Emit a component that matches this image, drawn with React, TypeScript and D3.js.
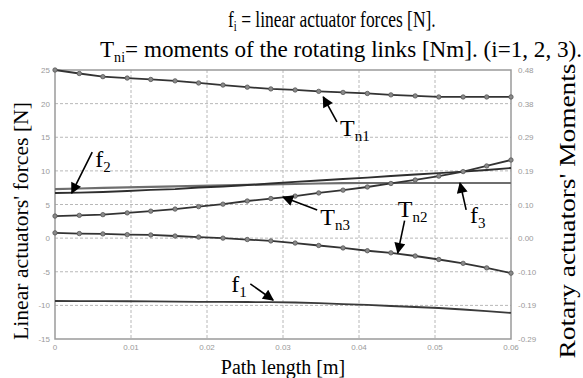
import * as d3 from "d3";

const W = 583;
const H = 378;
const MARGIN = { top: 70, right: 72, bottom: 39, left: 55 };

// path length [m] at each computed point
const pathLength = [
  0, 0.0032, 0.0063, 0.0095, 0.0126, 0.0158, 0.0189, 0.0221, 0.0253, 0.0284,
  0.0316, 0.0347, 0.0379, 0.0411, 0.0442, 0.0474, 0.0505, 0.0537, 0.0568, 0.06,
];

// linear actuator forces [N] (left axis)
const f1 = [
  -9.35, -9.36, -9.38, -9.39, -9.42, -9.44, -9.47, -9.48, -9.5, -9.53,
  -9.57, -9.68, -9.8, -9.94, -10.09, -10.24, -10.39, -10.61, -10.84, -11.13,
];
const f2 = [
  6.71, 6.78, 6.86, 7.01, 7.16, 7.3, 7.53, 7.68, 7.9, 8.12,
  8.35, 8.57, 8.79, 9.01, 9.24, 9.46, 9.68, 9.9, 10.13, 10.43,
];
const f3 = [
  7.3, 7.38, 7.46, 7.54, 7.62, 7.7, 7.77, 7.84, 7.91, 7.98,
  8.05, 8.12, 8.18, 8.2, 8.2, 8.2, 8.2, 8.2, 8.2, 8.2,
];

// moments of the rotating links [Nm] (right axis)
const tn1 = [
  0.48, 0.47, 0.461, 0.457, 0.453, 0.449, 0.443, 0.437, 0.431, 0.426,
  0.423, 0.419, 0.416, 0.413, 0.409, 0.406, 0.403, 0.403, 0.403, 0.403,
];
const tn2 = [
  0.015, 0.013, 0.012, 0.01, 0.009, 0.006, 0.003, 0.0, -0.004, -0.008,
  -0.014, -0.021, -0.028, -0.036, -0.042, -0.051, -0.061, -0.072, -0.085, -0.1,
];
const tn3 = [
  0.063, 0.065, 0.067, 0.072, 0.077, 0.083, 0.09, 0.097, 0.106, 0.113,
  0.12, 0.129, 0.137, 0.146, 0.156, 0.166, 0.177, 0.19, 0.206, 0.223,
];

const xTicks = [0, 0.01, 0.02, 0.03, 0.04, 0.05, 0.06];
const xTickLabels = ["0", "0.01", "0.02", "0.03", "0.04", "0.05", "0.06"];
const leftTicks = [-15, -10, -5, 0, 5, 10, 15, 20, 25];
const rightTicks = [-0.288, -0.192, -0.096, 0, 0.096, 0.192, 0.288, 0.384, 0.48];
const rightTickLabels = ["-0.29", "-0.19", "-0.10", "0.00", "0.10", "0.19", "0.29", "0.38", "0.48"];

// annotations, in data units of the left axis: arrow tail, arrow tip, label anchor
const notes = [
  { main: "f", sub: "2", tail: [0.0049, 12.8], tip: [0.0022, 6.7], at: [0.0053, 10.6] },
  { main: "T", sub: "n1", tail: [0.0371, 17.3], tip: [0.0353, 21.0], at: [0.0375, 15.2] },
  { main: "T", sub: "n3", tail: [0.0345, 4.2], tip: [0.03, 6.1], at: [0.0349, 2.0] },
  { main: "T", sub: "n2", tail: [0.046, 2.6], tip: [0.0451, -2.2], at: [0.0451, 3.2] },
  { main: "f", sub: "3", tail: [0.0541, 4.2], tip: [0.0533, 8.2], at: [0.0546, 2.3] },
  { main: "f", sub: "1", tail: [0.0257, -6.8], tip: [0.0287, -9.2], at: [0.0232, -8.0] },
];

const SERIF = "'Liberation Serif', 'Times New Roman', serif";
const SANS = "'Liberation Sans', Arial, sans-serif";

export default function App() {
  const x = d3.scaleLinear().domain([0, 0.06]).range([MARGIN.left, W - MARGIN.right]);
  const yL = d3.scaleLinear().domain([-15, 25]).range([H - MARGIN.bottom, MARGIN.top]);
  const yR = d3.scaleLinear().domain([-0.288, 0.48]).range([H - MARGIN.bottom, MARGIN.top]);

  const lineL = d3
    .line<number>()
    .x((_, i) => x(pathLength[i]))
    .y((d) => yL(d));
  const lineR = d3
    .line<number>()
    .x((_, i) => x(pathLength[i]))
    .y((d) => yR(d));

  const left = MARGIN.left;
  const right = W - MARGIN.right;
  const top = MARGIN.top;
  const bottom = H - MARGIN.bottom;

  return (
    <svg
      width={W}
      height={H}
      style={{ position: "absolute", left: 0, top: 0, background: "#fff" }}
    >
      <defs>
        <marker
          id="arr"
          viewBox="0 0 10 10"
          refX="9"
          refY="5"
          markerWidth="13"
          markerHeight="11"
          markerUnits="userSpaceOnUse"
          orient="auto"
        >
          <path d="M0,0 L10,5 L0,10 z" fill="#000" />
        </marker>
      </defs>

      {/* titles */}
      <g transform="translate(228,27) scale(0.76,1)">
        <text x={0} y={0} fontFamily={SERIF} fontSize={23}>
          f<tspan fontSize={14} dy={4}>i</tspan>
          <tspan dy={-4}> = linear actuator forces [N].</tspan>
        </text>
      </g>
      <text
        x={100}
        y={57}
        fontFamily={SERIF}
        fontSize={23}
        textLength={482}
        lengthAdjust="spacingAndGlyphs"
      >
        T<tspan fontSize={14} dy={5}>ni</tspan>
        <tspan dy={-5}>= moments of the rotating links [Nm]. (i=1, 2, 3).</tspan>
      </text>

      {/* grid */}
      <g stroke="#b8b8b8" strokeDasharray="3,2" strokeWidth={1}>
        {xTicks.slice(1, -1).map((t) => (
          <line key={"gx" + t} x1={x(t)} x2={x(t)} y1={top} y2={bottom} />
        ))}
        {leftTicks.slice(1, -1).map((t) => (
          <line key={"gy" + t} x1={left} x2={right} y1={yL(t)} y2={yL(t)} />
        ))}
      </g>

      {/* frame */}
      <rect
        x={left}
        y={top}
        width={right - left}
        height={bottom - top}
        fill="none"
        stroke="#9a9a9a"
        strokeWidth={1.5}
      />

      {/* tick labels */}
      <g fontFamily={SANS} fontSize={8} fill="#9a9a9a">
        {leftTicks.map((t) => (
          <text key={"l" + t} x={left - 5} y={yL(t) + 3} textAnchor="end">
            {t}
          </text>
        ))}
        {rightTicks.map((t, i) => (
          <text key={"r" + t} x={right + 7} y={yR(t) + 3}>
            {rightTickLabels[i]}
          </text>
        ))}
        {xTicks.map((t, i) => (
          <text key={"x" + t} x={x(t)} y={350} textAnchor="middle">
            {xTickLabels[i]}
          </text>
        ))}
      </g>

      {/* force curves */}
      <path d={lineL(f3) || ""} fill="none" stroke="#6e6e6e" strokeWidth={2.2} />
      <path d={lineL(f2) || ""} fill="none" stroke="#2e2e2e" strokeWidth={1.8} />
      <path d={lineL(f1) || ""} fill="none" stroke="#3a3a3a" strokeWidth={1.8} />

      {/* moment curves with markers */}
      {[tn1, tn2, tn3].map((s, k) => (
        <g key={"tn" + k}>
          <path d={lineR(s) || ""} fill="none" stroke="#333" strokeWidth={1.8} />
          {s.map((v, i) => (
            <circle
              key={i}
              cx={x(pathLength[i])}
              cy={yR(v)}
              r={2.2}
              fill="#8a8a8a"
              stroke="#555"
              strokeWidth={0.8}
            />
          ))}
        </g>
      ))}

      {/* annotations */}
      {notes.map((n, i) => (
        <g key={"n" + i}>
          <line
            x1={x(n.tail[0])}
            y1={yL(n.tail[1])}
            x2={x(n.tip[0])}
            y2={yL(n.tip[1])}
            stroke="#000"
            strokeWidth={1.6}
            markerEnd="url(#arr)"
          />
          <text x={x(n.at[0])} y={yL(n.at[1])} fontFamily={SERIF} fontSize={24}>
            {n.main}
            <tspan fontSize={15} dy={5}>
              {n.sub}
            </tspan>
          </text>
        </g>
      ))}

      {/* axis titles */}
      <text
        x={(left + right) / 2}
        y={374}
        textAnchor="middle"
        fontFamily={SERIF}
        fontSize={20}
      >
        Path length [m]
      </text>
      <text
        transform={`translate(28, 221) rotate(-90)`}
        textAnchor="middle"
        fontFamily={SERIF}
        fontSize={21}
        textLength={238}
        lengthAdjust="spacingAndGlyphs"
      >
        Linear actuators' forces [N]
      </text>
      <text
        transform={`translate(575, 211) rotate(-90)`}
        textAnchor="middle"
        fontFamily={SERIF}
        fontSize={24}
        textLength={295}
        lengthAdjust="spacingAndGlyphs"
      >
        Rotary actuators' Moments
      </text>
    </svg>
  );
}
